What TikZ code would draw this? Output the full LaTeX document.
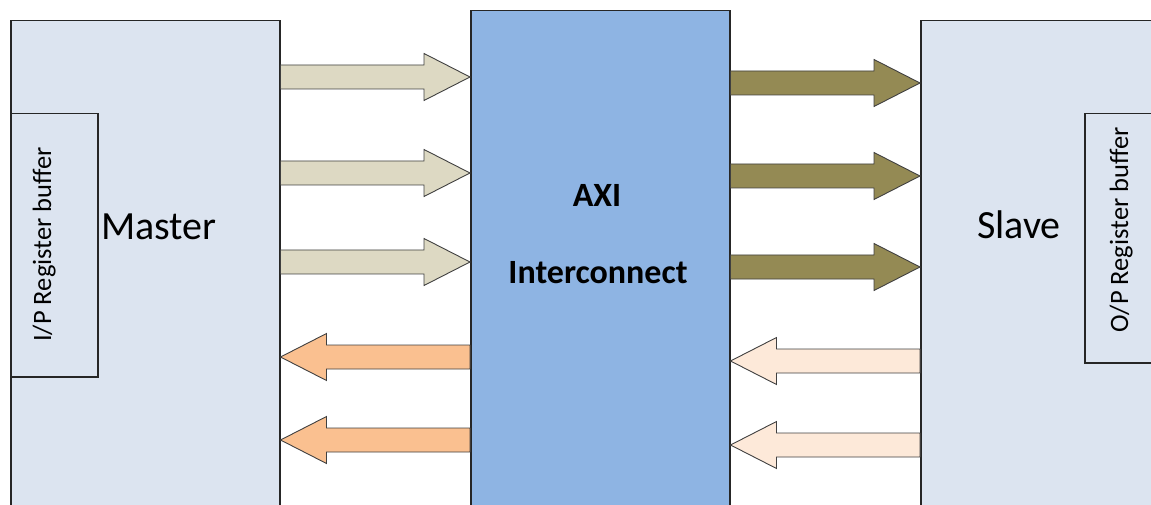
\documentclass[tikz,border=0pt]{standalone}
\usepackage{fontspec}
\setmainfont{Carlito}
\usetikzlibrary{calc}

\definecolor{bloqueclaro}{HTML}{DCE4F0}
\definecolor{bloqueaxi}{HTML}{8EB4E3}
\definecolor{arena}{HTML}{DDD9C3}
\definecolor{oliva}{HTML}{948A54}
\definecolor{naranja}{HTML}{FAC090}
\definecolor{melocoton}{HTML}{FDE9D9}

\tikzset{
  bloque/.style={draw=black!85, line width=1.5pt, rectangle, anchor=north west, inner sep=0pt},
  flecha/.style={draw=black!75, line width=0.9pt, line join=miter, to path={
      let \p1=(\tikztostart), \p2=(\tikztotarget), \n1={sign(\x2-\x1)} in
      (\x1,\y1+12pt) -- (\x2-\n1*46pt,\y1+12pt) -- (\x2-\n1*46pt,\y1+23.5pt)
      -- (\x2,\y1) -- (\x2-\n1*46pt,\y1-23.5pt) -- (\x2-\n1*46pt,\y1-12pt)
      -- (\x1,\y1-12pt) -- cycle}},
  rotulo/.style={font=\fontsize{40}{40}\selectfont, inner sep=0pt, anchor=base west},
  rotuloaxi/.style={font=\fontsize{34}{34}\selectfont\bfseries, inner sep=0pt, anchor=base},
  registro/.style={font=\fontsize{26.5}{26.5}\selectfont, inner sep=0pt, anchor=base, rotate=90}
}

\begin{document}
\begin{tikzpicture}[x=1pt, y=1pt]
  \useasboundingbox (0,0) rectangle (1151,504);
  \clip (0,0) rectangle (1151,504);

  % Bloques principales
  \node[bloque, fill=bloqueclaro, minimum width=269pt, minimum height=500pt] (master) at (10,484) {};
  \node[bloque, fill=bloqueaxi, minimum width=259pt, minimum height=520pt] (axi) at (470,494) {};
  \node[bloque, fill=bloqueclaro, minimum width=240pt, minimum height=500pt] (slave) at (920,484) {};

  % Buffers de registro
  \node[bloque, minimum width=87pt, minimum height=263pt] (ipbuf) at (10,391) {};
  \node[bloque, minimum width=80pt, minimum height=249pt] (opbuf) at (1084,391) {};

  % Textos
  \node[rotulo] (mastertxt) at (101,264) {Master};
  \node[rotulo] (slavetxt) at (977,265) {Slave};
  \node[rotuloaxi] (axitxt) at (597,297) {AXI};
  \node[rotuloaxi] (intertxt) at (598,221) {Interconnect};
  \node[registro] (iptxt) at (51,259.5) {I/P Register buffer};
  \node[registro] (optxt) at (1128,274) {O/P Register buffer};

  % Master -> AXI
  \foreach \yy in {427,331,242}
    \draw[flecha, fill=arena] (master.east |- 0,\yy) to (axi.west |- 0,\yy);

  % AXI -> Slave
  \foreach \yy in {421,328,237}
    \draw[flecha, fill=oliva] (axi.east |- 0,\yy) to (slave.west |- 0,\yy);

  % Respuestas hacia el Master
  \foreach \yy in {147,64}
    \draw[flecha, fill=naranja] (axi.west |- 0,\yy) to (master.east |- 0,\yy);

  % Respuestas desde el Slave
  \foreach \yy in {143,59}
    \draw[flecha, fill=melocoton] (slave.west |- 0,\yy) to (axi.east |- 0,\yy);
\end{tikzpicture}
\end{document}
